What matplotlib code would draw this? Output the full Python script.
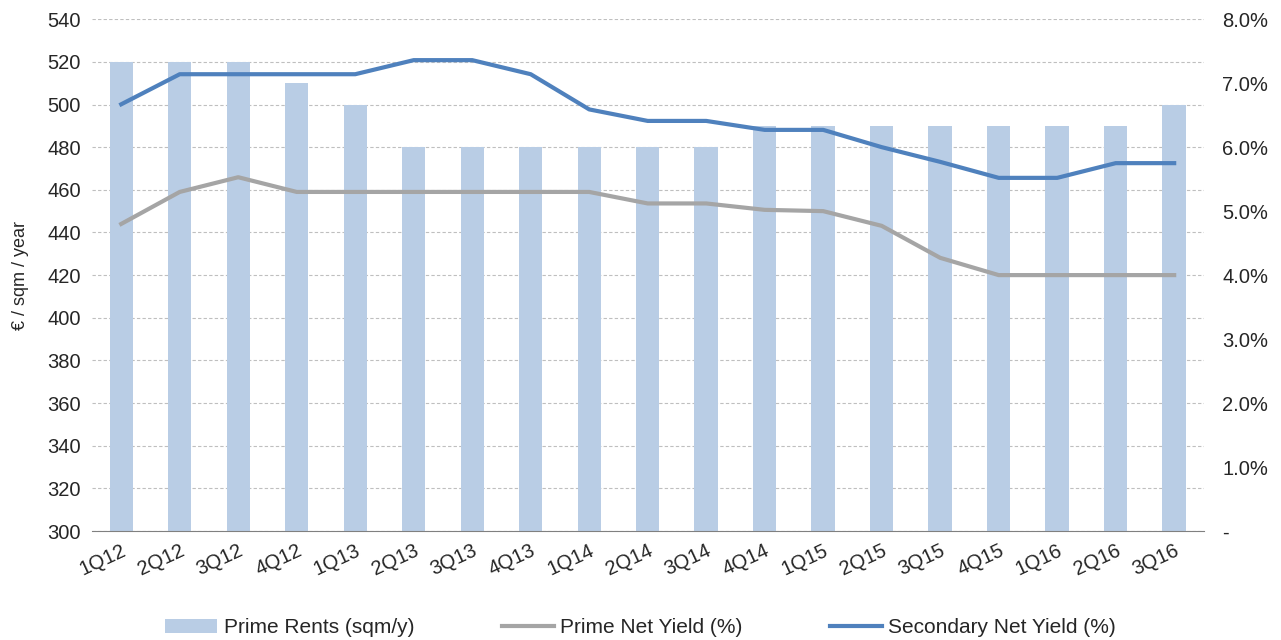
import numpy as np
import matplotlib.pyplot as plt
from matplotlib.ticker import FuncFormatter

quarters = ['1Q12', '2Q12', '3Q12', '4Q12', '1Q13', '2Q13', '3Q13', '4Q13', '1Q14', '2Q14',
            '3Q14', '4Q14', '1Q15', '2Q15', '3Q15', '4Q15', '1Q16', '2Q16', '3Q16']
prime_rents = [520, 520, 520, 510, 500, 480, 480, 480, 480, 480,
               480, 490, 490, 490, 490, 490, 490, 490, 500]
prime_yield = [4.8, 5.3, 5.53, 5.3, 5.3, 5.3, 5.3, 5.3, 5.3, 5.12,
               5.12, 5.02, 5.0, 4.77, 4.27, 4.0, 4.0, 4.0, 4.0]
secondary_yield = [6.67, 7.14, 7.14, 7.14, 7.14, 7.36, 7.36, 7.14, 6.59, 6.41,
                   6.41, 6.27, 6.27, 6.0, 5.77, 5.52, 5.52, 5.75, 5.75]

plt.rcParams['font.family'] = ['Liberation Sans', 'DejaVu Sans']
txt = '#262626'

fig = plt.figure(figsize=(12.81, 6.4), dpi=100)
ax = fig.add_axes([0.0718, 0.1703, 0.8681, 0.7997])
x = np.arange(len(quarters))

b = ax.bar(x, prime_rents, width=0.40, color='#b9cde5', label='Prime Rents (sqm/y)', zorder=2)
ax.set_ylim(300, 540)
ax.set_yticks(np.arange(300, 541, 20))
ax.set_xlim(-0.5, len(quarters) - 0.49)
ax.set_xticks(x)
ax.set_xticklabels(quarters, rotation=25, ha='right', rotation_mode='anchor', fontsize=14.5, color=txt)
ax.tick_params(axis='y', labelsize=14.5, colors=txt, length=0, pad=8)
ax.tick_params(axis='x', length=0, pad=7)
ax.set_ylabel('€ / sqm / year', fontsize=13, color=txt)
ax.yaxis.set_label_coords(-0.057, 0.5)
ax.grid(axis='y', color='#bfbfbf', linestyle=(0, (3, 2)), linewidth=0.8, zorder=0)
for s in ['top', 'right', 'left']:
    ax.spines[s].set_visible(False)
ax.spines['bottom'].set_color('#808080')

ax2 = ax.twinx()
l1, = ax2.plot(x, prime_yield, color='#a5a5a5', linewidth=3, label='Prime Net Yield (%)')
l2, = ax2.plot(x, secondary_yield, color='#4f81bd', linewidth=3, label='Secondary Net Yield (%)')
ax2.set_ylim(0, 8)
ax2.set_yticks(np.arange(0, 8.1, 1))
ax2.yaxis.set_major_formatter(FuncFormatter(lambda v, p: '-' if v == 0 else '%.1f%%' % v))
ax2.tick_params(axis='y', labelsize=14.5, colors=txt, length=0, pad=13)
for s in ['top', 'right', 'left', 'bottom']:
    ax2.spines[s].set_visible(False)

fig.legend(handles=[b, l1, l2], loc='lower center', ncol=3, frameon=False, fontsize=15,
           bbox_to_anchor=(0.5, -0.025), columnspacing=4.2, handlelength=2.5, handletextpad=0.3,
           labelcolor=txt)

plt.savefig('out.png', dpi=100)
